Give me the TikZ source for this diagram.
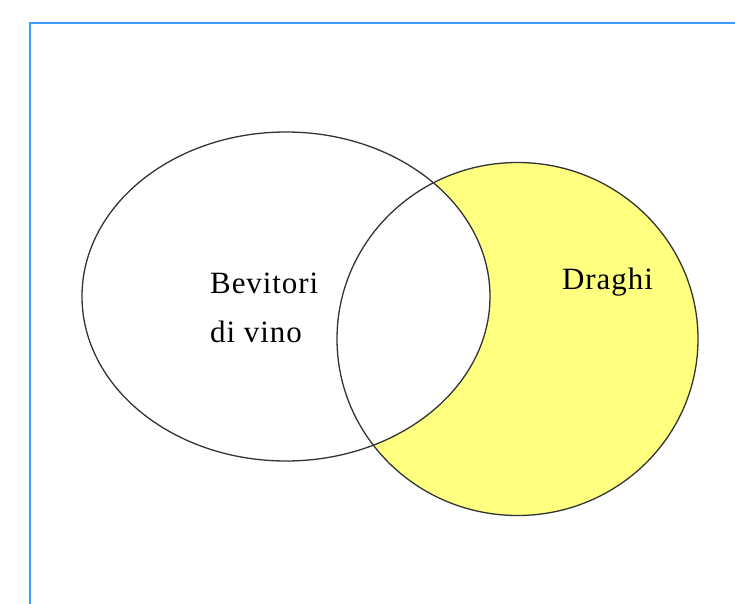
\documentclass[tikz,border=0pt]{standalone}
\usepackage{fontspec}
\setmainfont{Liberation Serif}
\newfontfamily\lblfont[LetterSpace=3]{Liberation Serif}
\definecolor{frameblue}{RGB}{60,155,255}
\definecolor{dragonyellow}{RGB}{255,255,128}
\tikzset{
  setline/.style={draw=black!80, line width=1.3pt},
  lbl/.style={anchor=base west, inner sep=0pt, font=\lblfont\fontsize{31}{36}\selectfont},
  frameline/.style={draw=frameblue, line width=2pt}
}
\begin{document}
\begin{tikzpicture}[x=1pt,y=-1pt]
\useasboundingbox (0,0) rectangle (735,604);
\draw[frameline] (29.5,604) -- (29.5,23.5) -- (735,23.5);
% fills
\fill[dragonyellow] (517.5,339) ellipse [x radius=180.5pt, y radius=176.5pt];
\fill[white] (286,296.5) ellipse [x radius=204pt, y radius=164.5pt];
% outlines
\draw[setline] (286,296.5) ellipse [x radius=204pt, y radius=164.5pt];
\draw[setline] (517.5,339) ellipse [x radius=180.5pt, y radius=176.5pt];
% labels
\node[lbl] (bev) at (210,293) {Bevitori};
\node[lbl] (vino) at (210,342) {di vino};
\node[lbl] (dra) at (562,289) {Draghi};
\end{tikzpicture}
\end{document}
